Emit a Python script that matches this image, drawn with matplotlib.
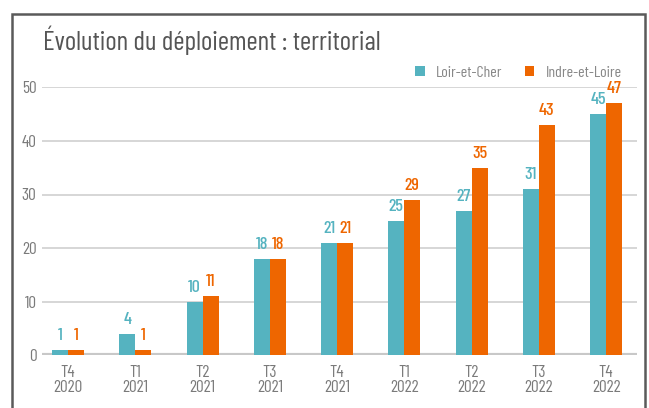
import numpy as np
import matplotlib
matplotlib.use('Agg')
from matplotlib import pyplot as plt
from matplotlib.patches import Rectangle

# Data
periodes = ['T4\n2020', 'T1\n2021', 'T2\n2021', 'T3\n2021', 'T4\n2021',
            'T1\n2022', 'T2\n2022', 'T3\n2022', 'T4\n2022']
loir_et_cher = [1, 4, 10, 18, 21, 25, 27, 31, 45]
indre_et_loire = [1, 1, 11, 18, 21, 29, 35, 43, 47]

TEAL = '#55b3c0'
ORANGE = '#ee6600'
GREY = '#7a7a7a'

plt.rcParams['font.family'] = ['Barlow Condensed', 'DejaVu Sans']

fig = plt.figure(figsize=(6.49, 4.08), dpi=100)
W, H = 649, 408
ax = fig.add_axes([42 / W, 1 - 355.3 / H, (637 - 42) / W, (355.3 - 87.3) / H])

x = np.arange(len(periodes))
w = 0.238
ax.bar(x - w / 2, loir_et_cher, w, color=TEAL, label='Loir-et-Cher', zorder=3)
ax.bar(x + w / 2, indre_et_loire, w, color=ORANGE, label='Indre-et-Loire', zorder=3)

for xi, a, b in zip(x, loir_et_cher, indre_et_loire):
    ax.annotate(str(a), (xi - w / 2, a), xytext=(0, 5), textcoords='offset points',
                ha='center', va='bottom', color=TEAL, fontsize=13, fontweight=500)
    ax.annotate(str(b), (xi + w / 2, b), xytext=(0, 5), textcoords='offset points',
                ha='center', va='bottom', color=ORANGE, fontsize=13, fontweight=500)

ax.set_xlim(-0.387, 8.46)
ax.set_ylim(0, 50)
ax.set_yticks(range(0, 51, 10))
ax.set_xticks(x)
ax.set_xticklabels(periodes, color=GREY, fontsize=12.5, linespacing=1.0)
ax.tick_params(axis='y', colors=GREY, labelsize=12.5, length=0, pad=4)
ax.tick_params(axis='x', length=0, pad=7)
ax.grid(axis='y', color='#d0d0d0', lw=1.2, zorder=0)
ax.axhline(0, color='#c8c8c8', lw=3, zorder=2)
for s in ax.spines.values():
    s.set_visible(False)

leg = ax.legend(loc='lower right', bbox_to_anchor=(0.985, 1.005), ncol=2, frameon=False,
                fontsize=11.5, handlelength=0.6, handleheight=0.6, handletextpad=0.7,
                columnspacing=1.4, borderaxespad=0)
for t in leg.get_texts():
    t.set_color('#888888')

fig.text(43 / W, 1 - 40 / H, 'Évolution du déploiement : territorial', fontsize=19.5,
         color='#555555', va='center', ha='left')

# outer frame
fig.patches.append(Rectangle((12 / W, -0.1), (645 - 12) / W, 1.1 - 14 / H,
                             transform=fig.transFigure, fill=False,
                             edgecolor='#5a5a5a', lw=1.8))

fig.savefig('out.png', dpi=100)
